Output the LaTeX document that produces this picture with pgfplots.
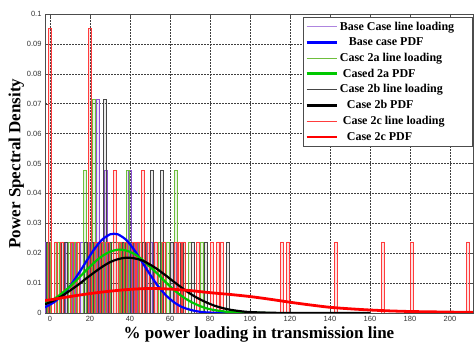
\documentclass[border=0pt]{standalone}
\usepackage{fontspec}
\setmainfont{Liberation Serif}
\setsansfont{Liberation Sans}
\usepackage{pgfplots}
\pgfplotsset{compat=1.18}
\definecolor{cBase}{RGB}{140,80,210}
\definecolor{cA}{RGB}{110,190,60}
\definecolor{cB}{RGB}{70,70,70}
\definecolor{cC}{RGB}{255,60,60}
\definecolor{pBlue}{RGB}{0,0,255}
\definecolor{pGreen}{RGB}{0,200,0}
\definecolor{pRed}{RGB}{255,0,0}
\begin{document}
\begin{tikzpicture}
\begin{axis}[
  name=ax,
  scale only axis, width=428pt, height=299pt,
  xmin=-2.5, xmax=211.5, ymin=0, ymax=0.1,
  xtick={0,20,40,60,80,100,120,140,160,180,200},
  xticklabels={0,20,40,60,80,100,120,140,160,180,200},
  ytick={0,0.01,0.02,0.03,0.04,0.05,0.06,0.07,0.08,0.09,0.1},
  yticklabels={0,0.01,0.02,0.03,0.04,0.05,0.06,0.07,0.08,0.09,0.1},
  tick label style={font=\fontsize{7.5}{9}\selectfont\sffamily, text=black!80},
  grid=major,
  major grid style={dash pattern=on 1.5pt off 1.5pt, black!75, line width=0.45pt},
  axis line style={black!70},
  tick style={black!70},
  tick align=inside, major tick length=3pt,
  xlabel={\% power loading in transmission line},
  ylabel={Power Spectral Density},
  label style={font=\fontsize{17}{20}\selectfont\bfseries},
  xlabel style={yshift=2pt},
  ylabel style={yshift=-4pt},
  legend cell align=left,
  legend style={at={(1,1)}, anchor=north east, yshift=-3pt,
    font=\fontsize{12}{13}\selectfont\bfseries, draw=black!70, line width=0.6pt,
    row sep=2pt, inner sep=2.5pt},
  legend image code/.code={\draw[#1] (0pt,0pt) -- (30pt,0pt);},
]
% ---- Base case line loading (bars)
\addplot[ybar, bar width=1.4, bar shift=0pt, draw=cBase, fill=cBase, fill opacity=0.15, line width=0.5pt, forget plot] coordinates {
(-1.5,0.0238) (3,0.0238) (8.5,0.0238) (12,0.0238) (16,0.0238) (20.5,0.0238)
(24,0.0714) (28,0.0476) (30,0.0238) (34,0.0238) (36.5,0.0238) (40,0.0476)
(43,0.0238) (45,0.0238) (48,0.0238) (50.5,0.0238) (53,0.0238) (56,0.0238)
(61,0.0238) (62.5,0.0238)
};
% ---- Case 2a line loading
\addplot[ybar, bar width=1.4, bar shift=0pt, draw=cA, fill=cA, fill opacity=0.15, line width=0.5pt, forget plot] coordinates {
(-0.5,0.0238) (4,0.0238) (10,0.0238) (13,0.0238) (17.5,0.0476) (22,0.0714)
(25,0.0238) (27,0.0238) (31,0.0238) (34,0.0238) (36,0.0238) (39,0.0476)
(42,0.0238) (45,0.0238) (49,0.0238) (55,0.0238) (59,0.0238) (63,0.0476)
(67,0.0238) (70,0.0238) (76,0.0238)
};
% ---- Case 2b line loading
\addplot[ybar, bar width=1.4, bar shift=0pt, draw=cB, fill=cB, fill opacity=0.1, line width=0.5pt, forget plot] coordinates {
(-1,0.0238) (6.5,0.0238) (8,0.0238) (18,0.0238) (21,0.0238) (25,0.0238)
(27.5,0.0714) (30,0.0238) (32.5,0.0238) (35,0.0238) (37,0.0238) (41,0.0238)
(44,0.0238) (47,0.0238) (51,0.0476) (56,0.0476) (61,0.0238) (66,0.0238)
(71.5,0.0238) (78,0.0238) (89,0.0238)
};
% ---- Case 2c line loading
\addplot[ybar, bar width=1.4, bar shift=0pt, draw=cC, fill=cC, fill opacity=0.15, line width=0.5pt, forget plot] coordinates {
(0,0.0952) (3,0.0238) (6,0.0238) (11,0.0238) (14,0.0238) (20,0.0952)
(23,0.0238) (26,0.0238) (29,0.0238) (32.5,0.0476) (35,0.0238) (38,0.0238)
(42,0.0238) (44,0.0238) (46.5,0.0476) (49,0.0238) (53,0.0238) (57,0.0238)
(63,0.0238) (65,0.0238) (66.7,0.0238) (74,0.0238) (81,0.0238) (84,0.0238)
(86,0.0238) (116,0.0238) (119,0.0238) (143,0.0238) (166.5,0.0238)
(181,0.0238) (209,0.0238)
};
% ---- PDFs
\addplot[pBlue, line width=2.2pt, smooth, forget plot] coordinates {
(-2.5,0.0019) (2,0.0036) (6,0.0059) (10,0.0090) (14,0.0129) (18,0.0171)
(22,0.0212) (26,0.0245) (30,0.0263) (32,0.0265) (34,0.0263) (38,0.0245)
(42,0.0212) (46,0.0171) (50,0.0129) (54,0.0090) (58,0.0059) (62,0.0036)
(66,0.0020) (70,0.0011) (74,0.0005) (78,0.0002) (82,0.0001) (90,0.0000)
(100,0.0000)
};
\addplot[pGreen, line width=2.2pt, smooth, forget plot] coordinates {
(-2.5,0.0031) (2,0.0047) (6,0.0066) (10,0.0089) (14,0.0115) (18,0.0142)
(22,0.0168) (26,0.0190) (30,0.0205) (34,0.0212) (35,0.0212) (38,0.0209)
(42,0.0198) (46,0.0179) (50,0.0155) (54,0.0129) (58,0.0102) (62,0.0077)
(66,0.0056) (70,0.0039) (74,0.0026) (78,0.0016) (82,0.0010) (86,0.0006)
(90,0.0003) (94,0.0002) (100,0.0001) (110,0.0000)
};
\addplot[black, line width=2.2pt, smooth, forget plot] coordinates {
(-2.5,0.0029) (2,0.0042) (6,0.0057) (10,0.0075) (14,0.0094) (18,0.0115)
(22,0.0135) (26,0.0154) (30,0.0170) (34,0.0180) (38,0.0185) (42,0.0183)
(46,0.0176) (50,0.0162) (54,0.0145) (58,0.0125) (62,0.0104) (66,0.0084)
(70,0.0065) (74,0.0049) (78,0.0036) (82,0.0025) (86,0.0017) (90,0.0011)
(94,0.0007) (98,0.0004) (104,0.0002) (110,0.0001) (120,0.0000) (160,0.0000)
};
\addplot[pRed, line width=2.8pt, smooth, forget plot] coordinates {
(-2.5,0.0042) (0,0.0044) (10,0.0055) (20,0.0065) (30,0.0073) (40,0.0079)
(50,0.0082) (60,0.0080) (70,0.0075) (80,0.0068) (90,0.0062) (100,0.0055)
(110,0.0046) (120,0.0036) (130,0.0027) (140,0.0019) (150,0.0014)
(160,0.0010) (170,0.0007) (180,0.0005) (190,0.0004) (200,0.0003) (211.5,0.0002)
};
% ---- legend
\addlegendimage{cBase!70, line width=0.6pt}
\addlegendentry{Base Case line loading\hspace*{14pt}}
\addlegendimage{pBlue, line width=2.5pt}
\addlegendentry{\hspace*{9pt}Base case PDF}
\addlegendimage{cA, line width=0.6pt}
\addlegendentry{Casc 2a line loading}
\addlegendimage{pGreen, line width=2.5pt}
\addlegendentry{\hspace*{3pt}Cased 2a PDF}
\addlegendimage{cB, line width=0.6pt}
\addlegendentry{Case 2b line loading}
\addlegendimage{black, line width=2.5pt}
\addlegendentry{\hspace*{7pt}Case 2b PDF}
\addlegendimage{cC, line width=0.6pt}
\addlegendentry{\hspace*{3pt}Case 2c line loading}
\addlegendimage{pRed, line width=2.5pt}
\addlegendentry{\hspace*{7pt}Case 2c PDF}
\end{axis}
\pgfresetboundingbox
\useasboundingbox ([xshift=-45pt,yshift=-31pt]ax.south west) rectangle ([xshift=1pt,yshift=14pt]ax.north east);
\end{tikzpicture}
\end{document}
